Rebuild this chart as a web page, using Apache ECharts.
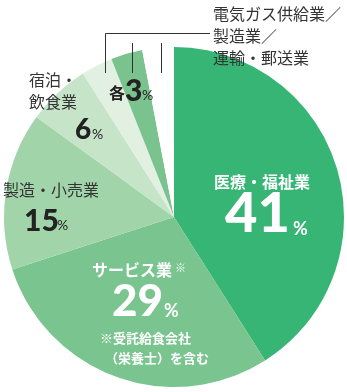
<!DOCTYPE html>
<html><head><meta charset="utf-8">
<script src="https://cdn.jsdelivr.net/npm/echarts@6/dist/echarts.min.js"></script>
<style>html,body{margin:0;padding:0;background:#fff}#c{width:347px;height:392px}</style>
</head><body><div id="c"></div>
<script>
const categories = ['医療・福祉業','サービス業','製造・小売業','宿泊・飲食業','電気ガス供給業','製造業','運輸・郵送業'];
const values = [41, 29, 15, 6, 3, 3, 3];
const colors = ['#36b574','#7ac48f','#a2d4aa','#c6e4c8','#e2f0e2','#7ac38e','#ffffff'];

const JP = '"Noto Sans CJK JP", sans-serif';
const NUM = 'Lato, "Noto Sans", sans-serif';
const chart = echarts.init(document.getElementById('c'), null, {renderer:'canvas'});

function txt(x, y, text, size, color, weight, font, align) {
  return {type:'text', z:100, x:x, y:y, style:{text:text, fontSize:size, fill:color, fontWeight:weight||'normal', fontFamily:font||JP, textAlign:align||'left', textVerticalAlign:'middle'}};
}
function line(x1,y1,x2,y2){
  return {type:'line', z:100, shape:{x1:x1,y1:y1,x2:x2,y2:y2}, style:{stroke:'#333', lineWidth:1}};
}

chart.setOption({
  animation:false,
  series:[{
    type:'pie', center:[174,217], radius:[0,170], startAngle:90, clockwise:true, z:1,
    label:{show:false}, labelLine:{show:false}, silent:true,
    itemStyle:{borderWidth:0},
    data: categories.map((n,i)=>({name:n, value:values[i], itemStyle:{color:colors[i]}}))
  }],
  graphic:[
    line(105.5,33.5,210,33.5),
    line(105.5,33.5,105.5,73),
    line(132.5,43,132.5,73),
    line(161.5,43,161.5,73),
    txt(213,14,'電気ガス供給業／',16,'#333'),
    txt(213,36,'製造業／',16,'#333'),
    txt(213,58,'運輸・郵送業',16,'#333'),
    txt(109,93,'各',16,'#222','bold'),
    txt(125,91,'3',30,'#222','900',NUM),
    txt(142,95,'%',14,'#222','normal',NUM),
    txt(29,80,'宿泊・',16,'#333'),
    txt(29,102,'飲食業',16,'#333'),
    txt(75,130,'6',28,'#222','900',NUM),
    txt(92,134,'%',14,'#222','normal',NUM),
    txt(3,190,'製造・小売業',16,'#333'),
    txt(24,221,'15',30,'#222','900',NUM),
    txt(57,225,'%',14,'#222','normal',NUM),
    txt(214,182,'医療・福祉業',16,'#fff','bold'),
    txt(225,214,'41',56,'#fff','900',NUM),
    txt(293,229,'%',18,'#fff','bold',NUM),
    txt(92,270,'サービス業',16,'#fff','bold'),
    txt(175,268,'※',11,'#fff','bold'),
    txt(112,302,'29',44,'#fff','900',NUM),
    txt(164,311,'%',18,'#fff','bold',NUM),
    txt(100,338,'※受託給食会社',13,'#fff','bold'),
    txt(105,358,'（栄養士）を含む',13,'#fff','bold')
  ]
});
</script></body></html>
